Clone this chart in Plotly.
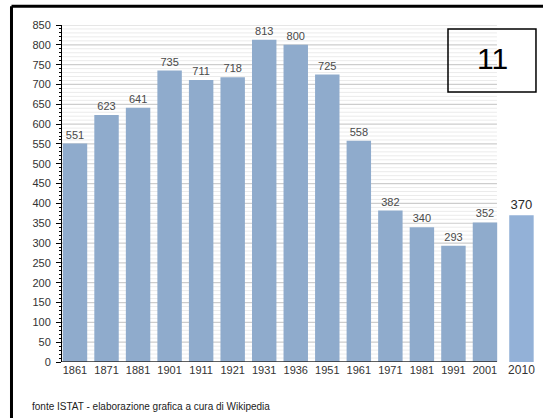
import plotly.graph_objects as go

years = ["1861", "1871", "1881", "1901", "1911", "1921", "1931", "1936",
         "1951", "1961", "1971", "1981", "1991", "2001", "2010"]
population = [551, 623, 641, 735, 711, 718, 813, 800, 725, 558, 382, 340, 293, 352, 370]
source_note = "fonte ISTAT - elaborazione grafica a cura di Wikipedia"
badge = "11"

# category positions: historical series evenly spaced, last year set apart
pos = [float(i) for i in range(len(years) - 1)] + [len(years) - 2 + 1.157]
x_lo, x_hi = -0.412, 14.84
grid_end = 13.38

label_sizes = [11] * (len(years) - 1) + [13]
label_colors = ["#4a4a4a"] * (len(years) - 1) + ["#2a2a2a"]
bar_colors = ["#8fabcc"] * (len(years) - 1) + ["#93b1d7"]

fig = go.Figure()
fig.add_trace(go.Bar(
    x=pos, y=population, width=0.775,
    marker=dict(color=bar_colors, line=dict(width=0)),
    text=[str(v) for v in population], textposition="outside",
    textfont=dict(size=label_sizes, color=label_colors, family="Liberation Sans, Arial"),
    cliponaxis=False, hoverinfo="skip",
))

shapes = []
for v in range(10, 851, 10):
    major = v % 50 == 0
    shapes.append(dict(type="line", xref="x", yref="y", x0=x_lo, x1=grid_end, y0=v, y1=v,
                       line=dict(color="#cdcdcd" if major else "#ebebeb", width=1.2 if major else 1),
                       layer="below"))
# x axis baseline under historical series
shapes.append(dict(type="line", xref="x", yref="y", x0=x_lo, x1=grid_end, y0=0, y1=0,
                   line=dict(color="#2b2b2b", width=1.5), layer="above"))
# outer frame (left and top edges visible)
shapes.append(dict(type="line", xref="paper", yref="paper", x0=-0.105, x1=1.3, y0=1.056, y1=1.056,
                   line=dict(color="black", width=3), layer="above"))
shapes.append(dict(type="line", xref="paper", yref="paper", x0=-0.105, x1=-0.105, y0=-0.4, y1=1.056,
                   line=dict(color="black", width=3), layer="above"))
# badge box
shapes.append(dict(type="rect", xref="paper", yref="paper", x0=0.8025, x1=0.9854, y0=0.801, y1=0.988,
                   line=dict(color="black", width=1.5), layer="above"))

tick_text = years[:-1] + ["<span style='font-size:12px'>" + years[-1] + "</span>"]

fig.update_layout(
    width=543, height=418,
    margin=dict(l=62, r=0, t=25, b=56),
    paper_bgcolor="white", plot_bgcolor="white",
    showlegend=False,
    font=dict(family="Liberation Sans, Arial", color="#333333"),
    xaxis=dict(range=[x_lo, x_hi], tickmode="array", tickvals=pos, ticktext=tick_text,
               showgrid=False, zeroline=False, showline=False, ticks="",
               tickfont=dict(size=11, color="#333333")),
    yaxis=dict(range=[0, 850], tickmode="linear", tick0=0, dtick=50,
               showgrid=False, zeroline=False, showline=True, linecolor="black", linewidth=1,
               ticks="outside", ticklen=5, tickcolor="black", tickwidth=1,
               ticklabelstandoff=3,
               minor=dict(dtick=10, ticks="outside", ticklen=2, tickcolor="black", showgrid=False),
               tickfont=dict(size=11, color="#333333")),
    shapes=shapes,
    annotations=[
        dict(text=source_note, xref="paper", yref="paper", x=-0.0665, y=-0.1306,
             xanchor="left", yanchor="middle", showarrow=False,
             font=dict(size=10, color="#222222")),
        dict(text=badge, xref="paper", yref="paper", x=0.894, y=0.9,
             xanchor="center", yanchor="middle", showarrow=False,
             font=dict(size=30, color="black", family="Liberation Sans, Arial")),
    ],
)

fig.write_html("out.html")
